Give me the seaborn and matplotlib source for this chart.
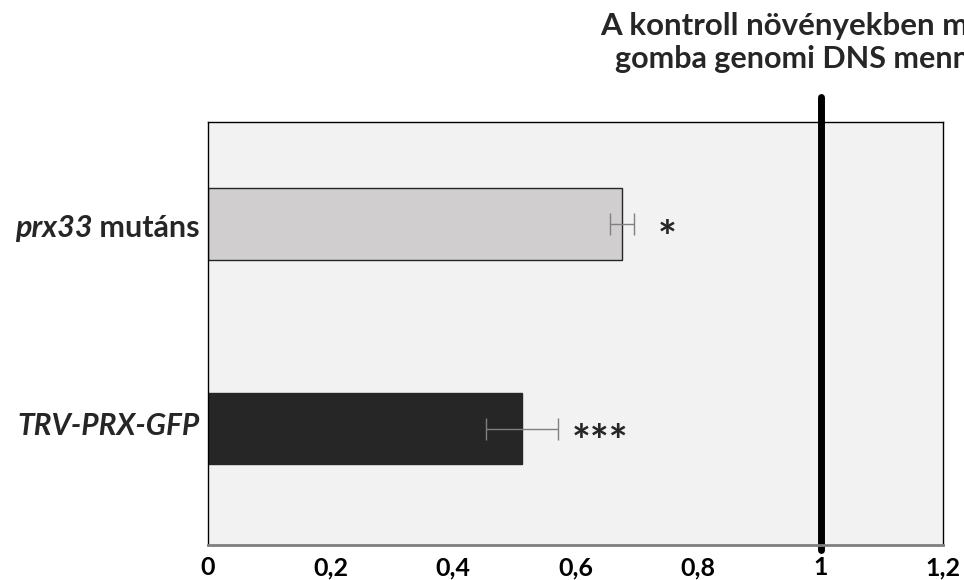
import pandas as pd
import seaborn as sns
import matplotlib.pyplot as plt

# data
groups = ['prx33 mutáns', 'TRV-PRX-GFP']
values = [0.676, 0.513]
errors = [0.019, 0.059]
stars = ['*', '***']
star_x = [0.749, 0.64]
xticks = [0, 0.2, 0.4, 0.6, 0.8, 1, 1.2]
xtick_labels = ['0', '0,2', '0,4', '0,6', '0,8', '1', '1,2']
title_lines = ['A kontroll növényekben mért', 'gomba genomi DNS mennyisége']

df = pd.DataFrame({'group': groups, 'value': values})

sns.set_theme(style='white')
plt.rcParams['font.family'] = ['Lato', 'DejaVu Sans']

fig = plt.figure(figsize=(9.64, 5.8), dpi=100)
ax = fig.add_axes([208 / 964, 1 - 545 / 580, 735 / 964, 423 / 580])
ax.set_facecolor('#f2f2f2')

sns.barplot(data=df, x='value', y='group', hue='group',
            palette=['#d0cece', '#262626'], width=0.35,
            edgecolor='#262626', linewidth=1, legend=False, ax=ax)
ax.errorbar(values, [0, 1], xerr=errors, fmt='none', ecolor='#808080',
            elinewidth=1, capsize=8, capthick=1)

ax.set_xlim(0, 1.2)
ax.set_ylim(1.57, -0.5)
ax.set_xticks(xticks)
ax.set_xticklabels(xtick_labels, fontsize=18, fontweight='bold')
ax.tick_params(axis='x', length=0, pad=8, colors='black')
ax.set_yticks([0, 1])
ax.set_yticklabels(['', ''])
ax.tick_params(axis='y', length=0)
ax.set_xlabel('')
ax.set_ylabel('')

for s in ['top', 'left', 'right']:
    ax.spines[s].set_color('black')
    ax.spines[s].set_linewidth(1)
ax.spines['bottom'].set_color('#7f7f7f')
ax.spines['bottom'].set_linewidth(2)

# significance stars
for i in range(len(stars)):
    ax.annotate(stars[i], xy=(star_x[i], i), xytext=(0, -0.33 * 32),
                textcoords='offset points', fontsize=32, fontweight='bold',
                ha='center', va='center')

# reference line at 1, reaching outside the axes
ax.axvline(1, ymin=-0.012, ymax=1.06, color='black', linewidth=5,
           clip_on=False)

# category labels (partly italic)
fig.canvas.draw()
renderer = fig.canvas.get_renderer()
lab_x = 200 / 964
t1 = fig.text(lab_x, 1 - 237 / 580, ' mutáns', fontsize=22,
              fontweight='bold', ha='right', va='baseline')
bb = t1.get_window_extent(renderer)
fig.text(bb.x0 / fig.bbox.width, 1 - 237 / 580, 'prx33', fontsize=22,
         fontweight='bold', style='italic', ha='right', va='baseline')
fig.text(lab_x, 1 - 435 / 580, groups[1], fontsize=21.5, fontweight='bold',
         style='italic', ha='right', va='baseline')

# title, cut at the right edge as in the reference
fig.text(600 / 964, 1 - 35 / 580, title_lines[0], fontsize=22.5,
         fontweight='bold', ha='left', va='baseline')
fig.text(615 / 964, 1 - 68 / 580, title_lines[1], fontsize=22,
         fontweight='bold', ha='left', va='baseline')

fig.savefig('out.png', dpi=100)
